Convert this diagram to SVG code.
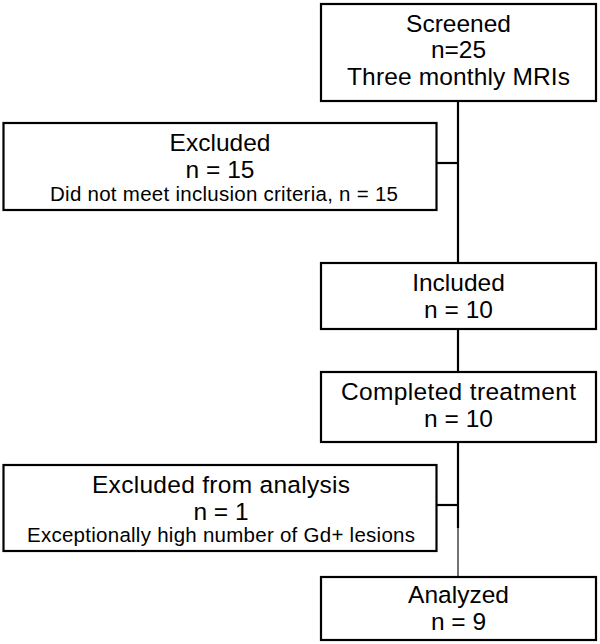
<svg xmlns="http://www.w3.org/2000/svg" width="600" height="644" viewBox="0 0 600 644">
<style>
.box{fill:#fff;stroke:#000;stroke-width:2.2}
.t{font-family:"Liberation Sans",Arial,sans-serif;font-size:24.5px;fill:#000;text-anchor:middle}
.s{font-family:"Liberation Sans",Arial,sans-serif;font-size:20.5px;fill:#000;text-anchor:middle}
.c{stroke:#000;stroke-width:2.2;fill:none}
</style>
<rect width="600" height="644" fill="#fff"/>
<g id="connectors">
<line class="c" x1="458" y1="101" x2="458" y2="263"/>
<line class="c" x1="437" y1="163" x2="458" y2="163"/>
<line class="c" x1="458" y1="329" x2="458" y2="372"/>
<line class="c" x1="458" y1="442" x2="458" y2="528"/>
<line class="c" x1="437" y1="505" x2="458" y2="505"/>
<line x1="458" y1="528" x2="458" y2="577" stroke="#000" stroke-width="1.1"/>
</g>
<g id="screened">
<rect class="box" x="321" y="4" width="275" height="97"/>
<text class="t" x="458.5" y="32.3">Screened</text>
<text class="t" x="458.5" y="58.3">n=25</text>
<text class="t" x="458.5" y="85" textLength="223" lengthAdjust="spacing">Three monthly MRIs</text>
</g>
<g id="excluded">
<rect class="box" x="3.5" y="123" width="433" height="87"/>
<text class="t" x="220" y="151">Excluded</text>
<text class="t" x="220" y="178.3">n = 15</text>
<text class="s" x="224" y="201" textLength="348" lengthAdjust="spacing">Did not meet inclusion criteria, n = 15</text>
</g>
<g id="included">
<rect class="box" x="321" y="263" width="275" height="66"/>
<text class="t" x="458.5" y="290.7">Included</text>
<text class="t" x="458.5" y="318.3">n = 10</text>
</g>
<g id="completed">
<rect class="box" x="321" y="372" width="275" height="70"/>
<text class="t" x="458.5" y="400" textLength="235" lengthAdjust="spacing">Completed treatment</text>
<text class="t" x="458.5" y="426.7">n = 10</text>
</g>
<g id="excluded-analysis">
<rect class="box" x="3.5" y="465" width="433" height="86"/>
<text class="t" x="221" y="492.5" textLength="258" lengthAdjust="spacing">Excluded from analysis</text>
<text class="t" x="221" y="519.5">n = 1</text>
<text class="s" x="221" y="542" textLength="388" lengthAdjust="spacing">Exceptionally high number of Gd+ lesions</text>
</g>
<g id="analyzed">
<rect class="box" x="321" y="577" width="275" height="63"/>
<text class="t" x="458.5" y="603.3">Analyzed</text>
<text class="t" x="458.5" y="630">n = 9</text>
</g>
</svg>
